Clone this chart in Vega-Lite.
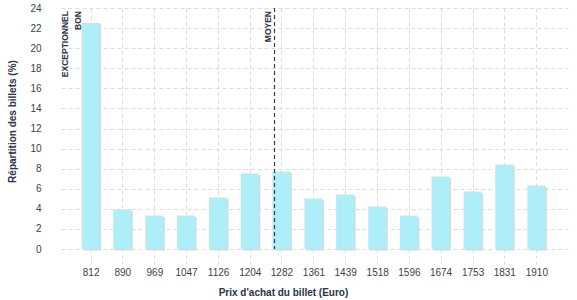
{
  "$schema": "https://vega.github.io/schema/vega-lite/v6.json",
  "autosize": {"type": "none"},
  "padding": {"left": 61, "top": 8, "right": 9, "bottom": 51},
  "width": 507,
  "height": 241,
  "config": {
    "view": {"stroke": null},
    "font": "Liberation Sans",
    "axis": {
      "labelFont": "Liberation Sans",
      "titleFont": "Liberation Sans",
      "labelFontSize": 10,
      "titleFontSize": 10,
      "labelColor": "#3a3f4d",
      "titleColor": "#2a3347",
      "gridColor": "#dcdcdc",
      "gridDash": [4, 3],
      "gridWidth": 1,
      "domain": false,
      "labelOverlap": false
    }
  },
  "datasets": {
    "bars": [
      {"prix": 812, "part": 22.5},
      {"prix": 890, "part": 3.93},
      {"prix": 969, "part": 3.33},
      {"prix": 1047, "part": 3.33},
      {"prix": 1126, "part": 5.12},
      {"prix": 1204, "part": 7.51},
      {"prix": 1282, "part": 7.71},
      {"prix": 1361, "part": 5.02},
      {"prix": 1439, "part": 5.42},
      {"prix": 1518, "part": 4.23},
      {"prix": 1596, "part": 3.33},
      {"prix": 1674, "part": 7.21},
      {"prix": 1753, "part": 5.72},
      {"prix": 1831, "part": 8.41},
      {"prix": 1910, "part": 6.32}
    ],
    "labels": [
      {"label": "EXCEPTIONNEL", "prix": 756, "part": 23.7},
      {"label": "BON", "prix": 788, "part": 23.7},
      {"label": "MOYEN", "prix": 1256, "part": 23.7}
    ],
    "moyen": [
      {"prix": 1265, "part": 24}
    ]
  },
  "encoding": {
    "x": {
      "field": "prix",
      "type": "quantitative",
      "scale": {"domain": [739, 1988], "nice": false, "zero": false, "padding": 0},
      "axis": {
        "values": [812, 890, 969, 1047, 1126, 1204, 1282, 1361, 1439, 1518, 1596, 1674, 1753, 1831, 1910],
        "format": "d",
        "title": "Prix d'achat du billet (Euro)",
        "ticks": true,
        "tickSize": 15,
        "tickColor": "#dcdcdc",
        "tickDash": [3, 3],
        "labelPadding": 3,
        "labelFlush": false,
        "labelOverlap": false,
        "titleX": 222,
        "titleY": 43,
        "titleBaseline": "middle"
      }
    },
    "y": {
      "field": "part",
      "type": "quantitative",
      "scale": {"domain": [0, 24], "nice": false},
      "axis": {
        "values": [0, 2, 4, 6, 8, 10, 12, 14, 16, 18, 20, 22, 24],
        "title": "Répartition des billets (%)",
        "ticks": false,
        "labelOverlap": false,
        "labelPadding": 20,
        "titleX": -49,
        "titleY": 113,
        "titleBaseline": "middle"
      }
    }
  },
  "layer": [
    {
      "data": {"name": "bars"},
      "mark": {"type": "bar", "color": "#d9d9d9", "width": 18, "xOffset": 1.5, "yOffset": 1.5}
    },
    {
      "data": {"name": "bars"},
      "mark": {"type": "bar", "color": "#adeef8", "width": 18}
    },
    {
      "data": {"name": "moyen"},
      "mark": {"type": "rule", "color": "#2b3d5b", "strokeDash": [4, 3], "strokeWidth": 1.2},
      "encoding": {
        "y2": {"datum": 0}
      }
    },
    {
      "data": {"name": "labels"},
      "mark": {"type": "text", "angle": 270, "align": "right", "baseline": "alphabetic", "fontSize": 8.5, "fontWeight": "bold", "color": "#2b3347", "font": "Liberation Sans"},
      "encoding": {
        "text": {"field": "label"}
      }
    }
  ]
}
